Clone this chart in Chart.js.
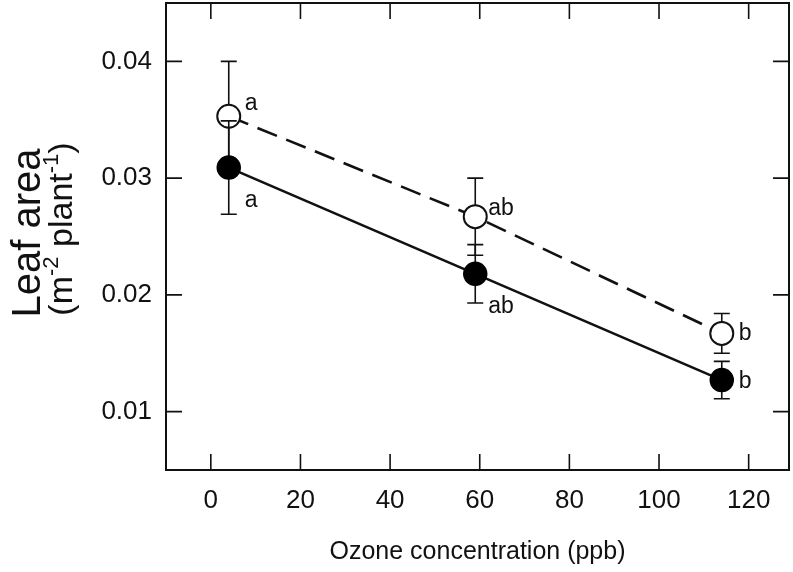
<!DOCTYPE html>
<html>
<head>
<meta charset="utf-8">
<script src="https://cdn.jsdelivr.net/npm/chart.js@4.4.4/dist/chart.umd.min.js"></script>
<style>
  html, body { margin: 0; padding: 0; background: #fff; }
  #wrap { width: 793px; height: 572px; }
</style>
</head>
<body>
<div id="wrap"><canvas id="chart"></canvas></div>
<script>
// values
const ozone = [4, 59, 114]
const filledMean = [0.0309, 0.0218, 0.0127]
const filledErr = [0.0040, 0.0025, 0.0016]
const openMean = [0.0353, 0.0267, 0.0167]
const openErr = [0.0047, 0.0033, 0.0017]
const filledLetters = ["a", "ab", "b"]
const openLetters = ["a", "ab", "b"]
const xTicks = [0, 20, 40, 60, 80, 100, 120]
const yTicks = [0.01, 0.02, 0.03, 0.04]

const FONT = "'Liberation Sans', Arial, sans-serif"
const INK = "#111"

// letter placement relative to each point (px): [dx, dy baseline]
const letterOffsets = {
  open: [[16, -6], [13, -2], [17, 7]],
  filled: [[16, 39], [13, 39], [17, 8]]
}

const errorBars = {
  id: "errorBars",
  beforeDatasetDraw(chart, args) {
    const ds = chart.data.datasets[args.index]
    if (!ds.errors) return
    const { ctx, scales: { x, y } } = chart
    ctx.save()
    ctx.strokeStyle = INK
    ctx.lineWidth = 1.6
    ds.data.forEach((p, i) => {
      const px = x.getPixelForValue(p.x)
      const top = y.getPixelForValue(p.y + ds.errors[i])
      const bot = y.getPixelForValue(p.y - ds.errors[i])
      ctx.beginPath()
      ctx.moveTo(px, top); ctx.lineTo(px, bot)
      ctx.moveTo(px - 8, top); ctx.lineTo(px + 8, top)
      ctx.moveTo(px - 8, bot); ctx.lineTo(px + 8, bot)
      ctx.stroke()
    })
    ctx.restore()
  },
  afterDatasetsDraw(chart) {
    const { ctx, scales: { x, y } } = chart
    ctx.save()
    ctx.fillStyle = INK
    ctx.font = "23px " + FONT
    ctx.textAlign = "left"
    ctx.textBaseline = "alphabetic"
    chart.data.datasets.forEach(ds => {
      const offs = letterOffsets[ds.kind]
      ds.data.forEach((p, i) => {
        const px = x.getPixelForValue(p.x)
        const py = y.getPixelForValue(p.y)
        ctx.fillText(ds.letters[i], px + offs[i][0], py + offs[i][1])
      })
    })
    ctx.restore()
  }
}

const frame = {
  id: "frame",
  afterDraw(chart) {
    const { ctx, chartArea: a, scales: { x, y } } = chart
    const len = 16
    ctx.save()
    ctx.strokeStyle = INK
    ctx.lineWidth = 1.6
    ctx.beginPath()
    xTicks.forEach(v => {
      const px = x.getPixelForValue(v)
      ctx.moveTo(px, a.bottom); ctx.lineTo(px, a.bottom - len)
      ctx.moveTo(px, a.top); ctx.lineTo(px, a.top + len)
    })
    yTicks.forEach(v => {
      const py = y.getPixelForValue(v)
      ctx.moveTo(a.left, py); ctx.lineTo(a.left + len, py)
      ctx.moveTo(a.right, py); ctx.lineTo(a.right - len, py)
    })
    ctx.stroke()
    ctx.lineWidth = 2
    ctx.strokeRect(a.left, a.top, a.right - a.left, a.bottom - a.top)

    // axis titles
    ctx.fillStyle = INK
    ctx.textAlign = "center"
    ctx.textBaseline = "middle"
    ctx.font = "25px " + FONT
    ctx.fillText("Ozone concentration (ppb)", (a.left + a.right) / 2, 552)

    ctx.textBaseline = "alphabetic"
    ctx.translate(0, 233)
    ctx.rotate(-Math.PI / 2)
    ctx.font = "40px " + FONT
    ctx.fillText("Leaf area", 0, 40)

    // second line with superscripts
    const big = "34px " + FONT, small = "22px " + FONT
    const parts = [["(m", big, 0], ["-2", small, -14], [" plant", big, 0], ["-1", small, -14], [")", big, 0]]
    let total = 0
    parts.forEach(p => { ctx.font = p[1]; total += ctx.measureText(p[0]).width })
    let cx = 4 - total / 2
    ctx.textAlign = "left"
    parts.forEach(p => {
      ctx.font = p[1]
      ctx.fillText(p[0], cx, 72 + p[2])
      cx += ctx.measureText(p[0]).width
    })
    ctx.restore()
  }
}

const toPoints = (ys) => ozone.map((v, i) => ({ x: v, y: ys[i] }))

new Chart(document.getElementById("chart"), {
  type: "line",
  data: {
    datasets: [
      {
        kind: "filled",
        data: toPoints(filledMean),
        errors: filledErr,
        letters: filledLetters,
        borderColor: INK,
        borderWidth: 2.6,
        pointRadius: 11.5,
        pointBorderWidth: 1.5,
        pointBackgroundColor: "#000",
        pointBorderColor: "#000",
        fill: false,
        tension: 0
      },
      {
        kind: "open",
        data: toPoints(openMean),
        errors: openErr,
        letters: openLetters,
        borderColor: INK,
        borderWidth: 2.6,
        borderDash: [21, 10],
        pointRadius: 11.5,
        pointBorderWidth: 2,
        pointBackgroundColor: "#fff",
        pointBorderColor: INK,
        fill: false,
        tension: 0
      }
    ]
  },
  options: {
    responsive: true,
    maintainAspectRatio: false,
    animation: false,
    layout: { autoPadding: false, padding: { top: 3, right: 4, left: 0, bottom: 0 } },
    plugins: { legend: { display: false }, tooltip: { enabled: false } },
    scales: {
      x: {
        type: "linear",
        min: -10,
        max: 129,
        afterBuildTicks: s => { s.ticks = xTicks.map(v => ({ value: v })) },
        afterFit: s => { s.height = 102; s.paddingLeft = 0; s.paddingRight = 0 },
        grid: { display: false, drawTicks: false },
        border: { display: false },
        ticks: { color: INK, font: { family: FONT, size: 26 }, padding: 15, maxRotation: 0 }
      },
      y: {
        type: "linear",
        min: 0.005,
        max: 0.045,
        afterBuildTicks: s => { s.ticks = yTicks.map(v => ({ value: v })) },
        afterFit: s => { s.width = 166; s.paddingTop = 0; s.paddingBottom = 0 },
        grid: { display: false, drawTicks: false },
        border: { display: false },
        ticks: { color: INK, font: { family: FONT, size: 26 }, padding: 14, callback: v => v.toFixed(2) }
      }
    }
  },
  plugins: [errorBars, frame]
})
</script>
</body>
</html>
